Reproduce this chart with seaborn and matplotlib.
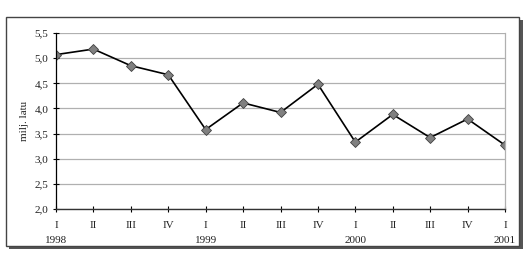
import matplotlib
matplotlib.use("Agg")
import matplotlib.pyplot as plt
import seaborn as sns
import pandas as pd
from matplotlib.patches import Rectangle

quarters = ["I", "II", "III", "IV", "I", "II", "III", "IV", "I", "II", "III", "IV", "I"]
years = ["1998", "", "", "", "1999", "", "", "", "2000", "", "", "", "2001"]
values = [5.07, 5.18, 4.85, 4.67, 3.58, 4.11, 3.92, 4.48, 3.33, 3.88, 3.42, 3.79, 3.27]
y_ticks = [2.0, 2.5, 3.0, 3.5, 4.0, 4.5, 5.0, 5.5]
y_label = "milj. latu"

sns.set_theme(style="white")
plt.rcParams['font.family'] = ['Liberation Serif', 'DejaVu Serif']

df = pd.DataFrame({"idx": range(len(values)), "value": values})

fig = plt.figure(figsize=(5.26, 2.59), dpi=100)
W, H = 526, 259
ax = fig.add_axes([56 / W, 1 - 209 / H, (505 - 56) / W, (209 - 33) / H])

sns.lineplot(data=df, x="idx", y="value", ax=ax, color="black", linewidth=1.2,
             marker="D", markersize=5, markerfacecolor="#808080",
             markeredgecolor="#404040", markeredgewidth=0.6)

ax.set_xlim(0, len(values) - 1)
ax.set_ylim(2.0, 5.5)
ax.set_yticks(y_ticks)
ax.set_yticklabels([f"{t:.1f}".replace(".", ",") for t in y_ticks], fontsize=8, color="#222222")
ax.set_xticks(range(len(values)))
ax.set_xticklabels(quarters, fontsize=8, color="#222222")
for i, yr in enumerate(years):
    if yr:
        ax.text(i, -0.155, yr, transform=ax.get_xaxis_transform(), ha="center", va="top",
                fontsize=8, color="#222222")
ax.set_xlabel("")
ax.set_ylabel(y_label, fontsize=8, color="#222222", labelpad=4)

ax.grid(axis="y", color="#b0b0b0", linewidth=0.9)
ax.set_axisbelow(True)
for s in ["top"]:
    ax.spines[s].set_visible(False)
ax.spines["right"].set_color("#b0b0b0")
ax.spines["right"].set_linewidth(0.9)
ax.spines["left"].set_color("black")
ax.spines["bottom"].set_color("#333333")
ax.spines["left"].set_linewidth(0.9)
ax.spines["bottom"].set_linewidth(1.0)
ax.tick_params(axis="y", which="major", direction="inout", length=5, width=0.8, color="black", pad=3, left=True)
ax.tick_params(axis="x", which="major", direction="inout", length=5, width=0.8, color="black", pad=6, bottom=True)

# outer frame with shadow
fig.patches.append(Rectangle((9 / W, 1 - 249 / H), (523 - 9) / W, (249 - 20) / H,
                             transform=fig.transFigure, facecolor="#555555", edgecolor="none", zorder=-2))
fig.patches.append(Rectangle((6 / W, 1 - 246 / H), (519 - 6) / W, (246 - 17) / H,
                             transform=fig.transFigure, facecolor="white", edgecolor="#444444",
                             linewidth=1.0, zorder=-1))

fig.savefig("out.png", dpi=100)
